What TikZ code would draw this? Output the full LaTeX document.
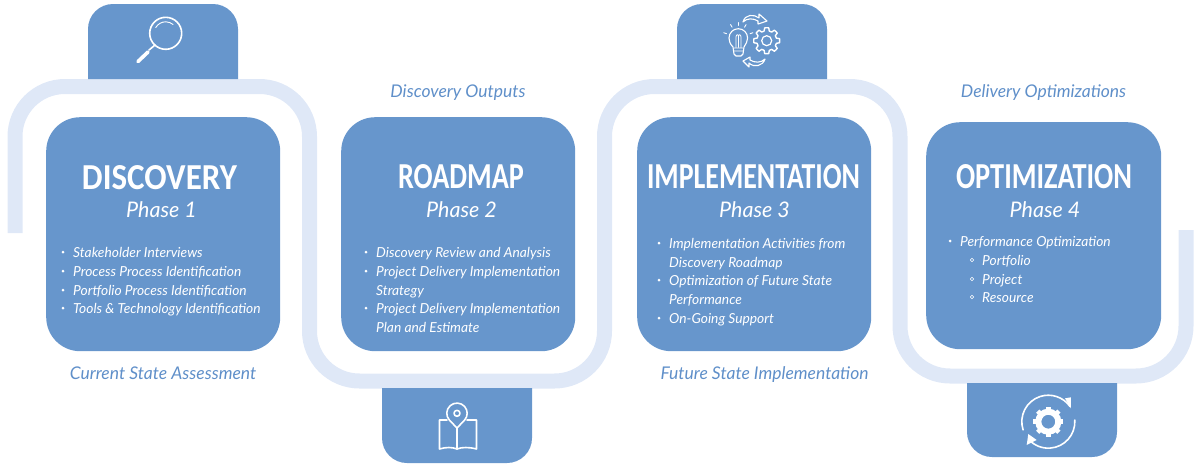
\documentclass[tikz,border=0pt]{standalone}
\usepackage{graphicx}
\usepackage{fontspec}
\setmainfont{Lato}
\newfontfamily\titlefont{Carlito}
\usepackage{tikz}
\usetikzlibrary{calc}
\definecolor{cardblue}{HTML}{6796CC}
\definecolor{trackblue}{HTML}{DFE8F7}
\definecolor{capblue}{HTML}{5F8FC9}
\newcommand{\titlefit}[2]{\resizebox{#1}{24pt}{#2}}
\tikzset{
  gearpic/.pic={
    \draw[white,line width=1.4pt,line join=round]
      (0:13) \foreach \a in {0,45,...,315} {
        -- (\a+9:13) -- (\a+15:10) -- (\a+30:10) -- (\a+36:13) -- (\a+45:13)
      } -- cycle;
  },
}
\begin{document}
\begin{tikzpicture}[
  x=1pt,y=-1pt,
  every node/.style={text=white,inner sep=0pt},
  card/.style={rectangle,fill=cardblue,rounded corners=34pt,minimum width=234pt,minimum height=234pt,anchor=north west},
  title/.style={font=\titlefont\fontsize{36}{36}\selectfont\bfseries},
  phase/.style={font=\fontsize{21.5}{22}\selectfont\itshape,text height=16pt,text depth=5pt,yshift=-2.5pt},
  caption/.style={font=\fontsize{17.5}{18}\selectfont\itshape,text=capblue,text height=13pt,text depth=4pt,yshift=-2.5pt},
  item/.style={font=\fontsize{13.8}{14}\selectfont\itshape,anchor=west,text height=10pt,text depth=3pt,yshift=-1.8pt},
  tab/.style={fill=cardblue},
  icon/.style={draw=white,line width=1.6pt,line cap=round,line join=round},
]
  \useasboundingbox (0,0) rectangle (1200,475);

  % track
  \draw[trackblue,line width=15pt,rounded corners=50pt]
    (15,233) -- (15,86.5) -- (309.5,86.5) -- (309.5,381) -- (604.5,381) -- (604.5,86.5)
    -- (900,86.5) -- (900,376) -- (1186,376) -- (1186,230);

  % tabs
  \fill[tab] (88,79) [rounded corners=25pt] -- (88,4) -- (238,4) [sharp corners] -- (238,79) -- cycle;
  \fill[tab] (677,79) [rounded corners=25pt] -- (677,4) -- (827,4) [sharp corners] -- (827,79) -- cycle;
  \fill[tab] (382,388) [rounded corners=25pt] -- (382,463) -- (532,463) [sharp corners] -- (532,388) -- cycle;
  \fill[tab] (967,383) [rounded corners=25pt] -- (967,457) -- (1117,457) [sharp corners] -- (1117,383) -- cycle;

  % cards
  \node[card] (discovery) at (46,117) {};
  \node[card] (roadmap) at (341,117) {};
  \node[card] (implementation) at (637,117) {};
  \node[card,minimum width=235pt,minimum height=227pt] (optimization) at (926,122) {};

  \node[title] (t1) at (159.5,178) {\titlefit{155pt}{DISCOVERY}};
  \node[title] (t2) at (461,177) {\titlefit{126pt}{ROADMAP}};
  \node[title] (t3) at (753.5,177) {\titlefit{213pt}{IMPLEMENTATION}};
  \node[title] (t4) at (1044,177) {\titlefit{176pt}{OPTIMIZATION}};
  \node[phase] (p1) at (161.5,209) {Phase 1};
  \node[phase] (p2) at (461.5,209) {Phase 2};
  \node[phase] (p3) at (754.5,209) {Phase 3};
  \node[phase] (p4) at (1045,209) {Phase 4};

  \node[caption] (c1) at (163,372) {Current State Assessment};
  \node[caption] (c2) at (458,90.5) {Discovery Outputs};
  \node[caption] (c3) at (764.5,372) {Future State Implementation};
  \node[caption] (c4) at (1043.5,90.5) {Delivery Optimizations};

  \node[item] (d1) at (73,252) {Stakeholder Interviews};
  \node[item] (d2) at (73,271) {Process Process Identification};
  \node[item] (d3) at (73,290) {Portfolio Process Identification};
  \node[item] (d4) at (73,308) {Tools \& Technology Identification};

  \node[item] (r1) at (376,252) {Discovery Review and Analysis};
  \node[item] (r2) at (376,271) {Project Delivery Implementation};
  \node[item] (r3) at (376,290) {Strategy};
  \node[item] (r4) at (376,308) {Project Delivery Implementation};
  \node[item] (r5) at (376,327) {Plan and Estimate};

  \node[item] (i1) at (669,243) {Implementation Activities from};
  \node[item] (i2) at (669,262) {Discovery Roadmap};
  \node[item] (i3) at (669,280) {Optimization of Future State};
  \node[item] (i4) at (669,299) {Performance};
  \node[item] (i5) at (669,318) {On-Going Support};

  \node[item] (o1) at (960,241) {Performance Optimization};
  \node[item] (o2) at (982,260) {Portfolio};
  \node[item] (o3) at (982,279) {Project};
  \node[item] (o4) at (982,297) {Resource};

  \foreach \p in {(63,252),(63,271),(63,290),(63,308),(366,252),(366,271),(366,308),(659,243),(659,280),(659,318),(950,241)}
    \fill[white] \p circle (1.5);
  \foreach \p in {(972,260),(972,279),(972,297)}
    \draw[white,line width=0.6pt] \p circle (1.7);

  % magnifier
  \draw[icon] (165.7,33.3) circle (16);
  \draw[icon,line width=0.9pt] ($(165.7,33.3)+(210:11.5)$) arc[start angle=210,end angle=310,radius=11.5];
  \draw[icon] (155,45) -- (149,50);
  \draw[white,line width=3.6pt,line cap=round] (148,52) -- (138,61.5);

  % bulb, gear, arrows
  \draw[icon,line width=1.1pt] (734,54) -- (733,47) .. controls (730,44) and (729,41) .. (729,38)
    arc[start angle=180,end angle=360,radius=9.3] .. controls (747.6,41) and (746,44) .. (744,47) -- (743,54) -- (741,56) -- (736,56) -- cycle;
  \draw[icon,line width=0.8pt] (734,48) -- (743,48) (734,51) -- (743,51)
    (736,47) -- (736,37) .. controls (736,34) and (739,34) .. (738.5,37) -- (738.5,47)
    (741,47) -- (741,37) .. controls (741,34) and (738,34) .. (738.5,37);
  \foreach \a in {200,240,270,300,340}
    \draw[icon,line width=0.9pt] ($(738.3,38)+(\a:12.5)$) -- ($(738.3,38)+(\a:15.5)$);
  \path (766.7,40.7) pic {gearpic};
  \draw[icon,line width=1.2pt] (766.7,40.7) circle (5);
  \draw[icon,line width=1.1pt] (743,22) .. controls (745,14) and (754,14) .. (759,18) -- (759,14) -- (767,21) -- (758,24)
    -- (758,21) .. controls (753,18) and (747,18) .. (743,22);
  \draw[icon,line width=1.1pt] (765,59) .. controls (763,66) and (754,68) .. (749,63) -- (749,67) -- (743,61) -- (750,57)
    -- (750,60) .. controls (755,63) and (761,63) .. (765,59);

  % pin on book
  \draw[icon] (457,428) -- (449.4,420.1) arc[start angle=138,end angle=402,radius=10.2] -- cycle;
  \draw[icon] (457,413.3) circle (3);
  \draw[icon] (447,420) -- (439.5,420) -- (439.5,449) .. controls (446,447) and (452,447) .. (457,449)
    .. controls (462,447) and (469,447) .. (476.5,449) -- (476.5,420) -- (467,420);
  \draw[icon] (457,428) -- (457,449);

  % gear with circular arrows
  \draw[icon] (1023.1,429.9) arc[start angle=162,end angle=325,radius=26.5];
  \fill[white] (1065,398.3) -- (1070.9,397.3) -- (1070.9,408.3) -- cycle;
  \draw[icon] (1074.8,420) arc[start angle=-3.6,end angle=137.5,radius=26.5];
  \fill[white] (1026.7,445) -- (1028.3,434) -- (1036.7,440) -- cycle;
  \draw[white,line width=6pt] (1048.3,421.7) circle (10);
  \foreach \a in {0,45,...,315}
    \draw[white,line width=4.5pt] ($(1048.3,421.7)+(\a:11)$) -- ($(1048.3,421.7)+(\a:15)$);
\end{tikzpicture}
\end{document}
